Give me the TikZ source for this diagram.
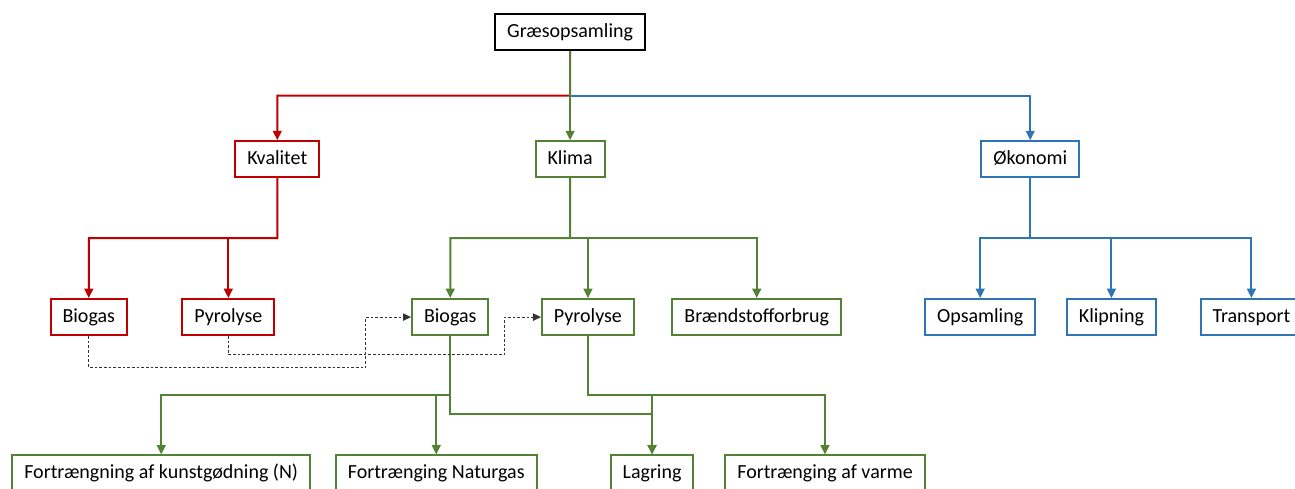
\documentclass[tikz,border=0pt]{standalone}
\usepackage{fontspec}
\setmainfont{Carlito}
\usetikzlibrary{positioning, arrows.meta, calc}
\definecolor{kvalred}{RGB}{192,0,0}
\definecolor{klimagreen}{RGB}{84,130,53}
\definecolor{okoblue}{RGB}{46,117,182}

\begin{document}
\begin{tikzpicture}[
    font=\fontsize{15pt}{18pt}\selectfont,
    block/.style={draw, rectangle, line width=1.5pt, fill=white, minimum height=0.95cm, text height=11pt, text depth=3.5pt, inner xsep=9pt, align=center},
    redblock/.style={block, draw=kvalred},
    greenblock/.style={block, draw=klimagreen},
    blueblock/.style={block, draw=okoblue},
    arrow/.style={-{Triangle[length=7pt, width=6.5pt]}, line width=1.5pt},
    redarrow/.style={arrow, color=kvalred},
    greenarrow/.style={arrow, color=klimagreen},
    bluearrow/.style={arrow, color=okoblue},
    dasharrow/.style={-{Triangle[length=6pt, width=5.5pt]}, line width=0.75pt, dash pattern=on 2pt off 1.5pt, color=black!80},
]
\useasboundingbox (0,0) rectangle (34.14,-12.89);

% Top
\node[block] (gras) at (15.03,-0.844) {Græsopsamling};

% Main branches
\node[redblock, below=2.35cm of gras, xshift=-7.72cm] (kval) {Kvalitet};
\node[greenblock, below=2.35cm of gras] (klima) {Klima};
\node[blueblock, below=2.35cm of gras, xshift=12.13cm] (oko) {Økonomi};

% Kvalitet
\node[redblock, below=3.16cm of kval, xshift=-4.97cm] (bio1) {Biogas};
\node[redblock, below=3.16cm of kval, xshift=-1.29cm] (pyr1) {Pyrolyse};

% Klima
\node[greenblock, below=3.16cm of klima, xshift=-3.16cm] (bio2) {Biogas};
\node[greenblock, below=3.16cm of klima, xshift=0.47cm] (pyr2) {Pyrolyse};
\node[greenblock, below=3.16cm of klima, xshift=4.92cm] (braend) {Brændstofforbrug};

% Økonomi
\node[blueblock, below=3.16cm of oko, xshift=-1.32cm] (ops) {Opsamling};
\node[blueblock, below=3.16cm of oko, xshift=2.14cm] (klip) {Klipning};
\node[blueblock, below=3.16cm of oko, xshift=5.83cm] (trans) {Transport};

% Biogas / Pyrolyse effects
\node[greenblock, below=3.12cm of bio2, xshift=-7.62cm] (kunst) {Fortrængning af kunstgødning (N)};
\node[greenblock, below=3.12cm of bio2, xshift=-0.37cm] (natur) {Fortrænging Naturgas};
\node[greenblock, below=3.12cm of pyr2, xshift=1.69cm] (lagring) {Lagring};
\node[greenblock, below=3.12cm of pyr2, xshift=6.25cm] (varme) {Fortrænging af varme};

% Split points
\coordinate (s0) at ($(gras.south)!0.5!(klima.north)$);
\coordinate (s1) at ($(kval.south)!0.5!(kval.south |- pyr1.north)$);
\coordinate (s2) at ($(klima.south)!0.5!(klima.south |- pyr2.north)$);
\coordinate (s3) at ($(oko.south)!0.5!(oko.south |- ops.north)$);
\coordinate (s4) at ($(bio2.south)!0.5!(bio2.south |- kunst.north)$);
\coordinate (s5) at ($(s4)+(0,-0.5)$);
\coordinate (s6) at ($(pyr2.south)!0.5!(pyr2.south |- varme.north)$);

% Connections from top
\draw[redarrow] (gras.south) -- (s0) -| (kval.north);
\draw[bluearrow] (s0) -| (oko.north);
\draw[greenarrow] (gras.south) -- (klima.north);

% Kvalitet
\draw[redarrow] (kval.south) -- (s1) -| (bio1.north);
\draw[redarrow] (s1) -| (pyr1.north);

% Klima
\draw[greenarrow] (klima.south) -- (s2) -| (bio2.north);
\draw[greenarrow] (s2) -| (pyr2.north);
\draw[greenarrow] (s2) -| (braend.north);

% Økonomi
\draw[bluearrow] (oko.south) -- (s3) -| (ops.north);
\draw[bluearrow] (s3) -| (klip.north);
\draw[bluearrow] (s3) -| (trans.north);

% Biogas and Pyrolyse
\draw[greenarrow] (bio2.south) -- (s4) -| (kunst.north);
\draw[greenarrow] (s4) -| (natur.north);
\draw[greenarrow] (bio2.south) -- (s5) -| (lagring.north);
\draw[greenarrow] (pyr2.south) -- (s6) -| (varme.north);
\draw[greenarrow] (s6) -| (lagring.north);

% Dashed links
\coordinate (d1) at ($(bio2.west)+(-1.19,0)$);
\coordinate (d2) at ($(pyr2.west)+(-0.96,0)$);
\draw[dasharrow] (bio1.south) -- ++(0,-0.83) -| (d1) -- (bio2.west);
\draw[dasharrow] (pyr1.south) -- ++(0,-0.49) -| (d2) -- (pyr2.west);

\end{tikzpicture}
\end{document}
